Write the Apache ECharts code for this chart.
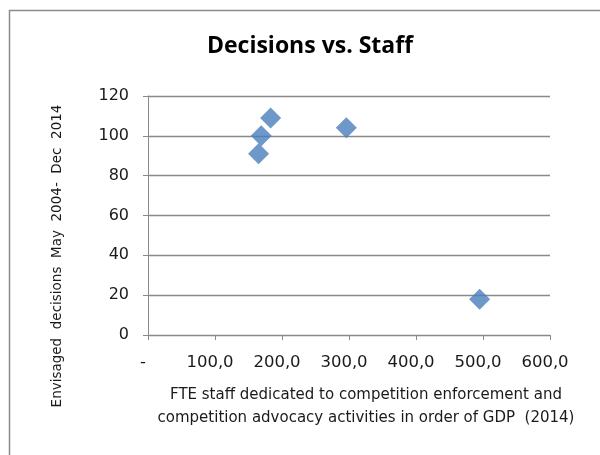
<!DOCTYPE html>
<html>
<head>
<meta charset="utf-8">
<script src="https://cdn.jsdelivr.net/npm/echarts@6/dist/echarts.min.js"></script>
<style>
  html, body { margin: 0; padding: 0; background: #fff; }
  #chart { width: 600px; height: 455px; }
</style>
</head>
<body>
<div id="chart"></div>
<script>
// Staff (FTE) against envisaged decisions, one point per authority
const staffFTE = [165, 169, 183, 296, 495];
const decisions = [91, 100, 109, 104, 18];
const xTickLabels = ['-', '100,0', '200,0', '300,0', '400,0', '500,0', '600,0'];
const yTicks = [0, 20, 40, 60, 80, 100, 120];

const chart = echarts.init(document.getElementById('chart'));
const axisGray = '#898989';
const labelFont = '"DejaVu Sans", sans-serif';
const titleFont = '"Open Sans", "Liberation Sans", sans-serif';

chart.setOption({
  animation: false,
  backgroundColor: '#fff',
  title: {
    text: 'Decisions vs. Staff',
    left: 305,
    textAlign: 'center',
    top: 30,
    textStyle: { fontFamily: titleFont, fontSize: 23, fontWeight: 'bold', color: '#000' }
  },
  graphic: [
    // frame edges
    { type: 'line', shape: { x1: 9, y1: 10.5, x2: 600, y2: 10.5 }, style: { stroke: '#8c8c8c', lineWidth: 1.5 } },
    { type: 'line', shape: { x1: 9.5, y1: 10, x2: 9.5, y2: 455 }, style: { stroke: '#8c8c8c', lineWidth: 1.5 } },
    // axis titles
    {
      type: 'text', x: 366, y: 407,
      style: {
        text: 'FTE staff dedicated to competition enforcement and\ncompetition advocacy activities in order of GDP  (2014)',
        font: '15px "DejaVu Sans", sans-serif', fill: '#1a1a1a',
        align: 'center', verticalAlign: 'middle', lineHeight: 23
      }
    },
    {
      type: 'text', x: 57, y: 256, rotation: Math.PI / 2,
      style: {
        text: 'Envisaged  decisions  May  2004-  Dec  2014',
        font: '13.5px "DejaVu Sans", sans-serif', fill: '#1a1a1a',
        align: 'center', verticalAlign: 'middle'
      }
    }
  ],
  grid: { left: 148, right: 50, top: 96, bottom: 120 },
  xAxis: {
    type: 'value',
    min: 0, max: 600, interval: 100,
    axisLine: { show: true, lineStyle: { color: axisGray, width: 1 } },
    axisTick: { show: true, length: 5, lineStyle: { color: axisGray } },
    splitLine: { show: false },
    axisLabel: {
      fontFamily: labelFont, fontSize: 16.5, color: '#1a1a1a', margin: 19,
      padding: [0, 10, 0, 0],
      formatter: (v) => xTickLabels[Math.round(v / 100)]
    }
  },
  yAxis: {
    type: 'value',
    min: yTicks[0], max: yTicks[yTicks.length - 1], interval: 20,
    axisLine: { show: true, lineStyle: { color: axisGray, width: 1 } },
    axisTick: { show: true, inside: false, length: 5, lineStyle: { color: axisGray } },
    splitLine: { show: true, lineStyle: { color: axisGray, width: 1.3 } },
    axisLabel: { fontFamily: labelFont, fontSize: 16, color: '#1a1a1a', margin: 19 }
  },
  series: [{
    type: 'scatter',
    symbol: 'diamond',
    symbolSize: [21, 21],
    itemStyle: { color: '#4a7ebb' },
    data: staffFTE.map((x, i) => [x, decisions[i]])
  }]
});
</script>
</body>
</html>
